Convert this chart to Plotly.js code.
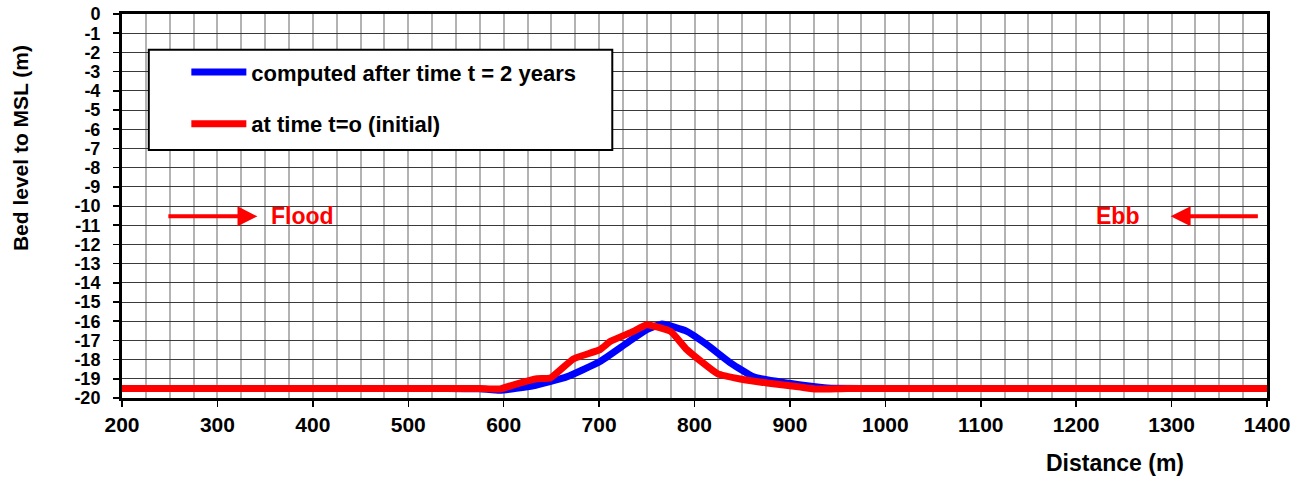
<!DOCTYPE html>
<html>
<head>
<meta charset="utf-8">
<script src="https://cdn.plot.ly/plotly-3.0.1.min.js"></script>
<style>html,body{margin:0;padding:0;background:#fff;}#chart{width:1308px;height:477px;}</style>
</head>
<body>
<div id="chart"></div>
<script>
// ---- data ----
var seriesNames = ["computed after time t = 2 years", "at time t=o (initial)"];
var distComputed = [200, 300, 400, 480, 540, 575, 596, 631, 666, 701, 729, 750, 766, 792, 813, 838, 862, 893, 939, 980, 1040, 1120, 1220, 1320, 1400];
var bedComputed  = [-19.5, -19.5, -19.5, -19.5, -19.5, -19.52, -19.6, -19.36, -18.9, -18.1, -17.14, -16.44, -16.15, -16.53, -17.22, -18.18, -18.9, -19.19, -19.48, -19.5, -19.5, -19.5, -19.5, -19.5, -19.5];
var distInitial = [200, 300, 400, 480, 540, 575, 596, 614, 635, 649, 673, 701, 712, 736, 750, 775, 792, 824, 848, 876, 911, 928, 960, 1020, 1100, 1200, 1300, 1400];
var bedInitial  = [-19.5, -19.5, -19.5, -19.5, -19.5, -19.5, -19.53, -19.26, -19.0, -18.96, -17.97, -17.48, -17.05, -16.53, -16.18, -16.53, -17.48, -18.73, -19.01, -19.22, -19.43, -19.53, -19.5, -19.5, -19.5, -19.5, -19.5, -19.5];
var xTickVals = [200, 300, 400, 500, 600, 700, 800, 900, 1000, 1100, 1200, 1300, 1400];
var xTickText = ["200", "300", "400", "500", "600", "700", "800", "900", "1000", "1100", "1200", "1300", "1400"];
var yTickVals = [0, -1, -2, -3, -4, -5, -6, -7, -8, -9, -10, -11, -12, -13, -14, -15, -16, -17, -18, -19, -20];
var yTickText = ["0", "-1", "-2", "-3", "-4", "-5", "-6", "-7", "-8", "-9", "-10", "-11", "-12", "-13", "-14", "-15", "-16", "-17", "-18", "-19", "-20"];
var xTitle = "Distance (m)";
var yTitle = "Bed level to MSL (m)";
var floodLabel = "Flood", ebbLabel = "Ebb";
var floodArrow = {from: 247, to: 342, y: -10.54, textX: 389};
var ebbArrow = {from: 1392, to: 1299, y: -10.54, textX: 1243};

var FONT = "Arial, 'Liberation Sans', sans-serif";
var RED = "#ff0000", BLUE = "#0000ff";

var traces = [
  {x: distComputed, y: bedComputed, name: seriesNames[0], type: "scatter", mode: "lines",
   line: {color: BLUE, width: 7, shape: "spline", smoothing: 0.4}, legendgroup: "a"},
  {x: distInitial, y: bedInitial, name: seriesNames[1], type: "scatter", mode: "lines",
   line: {color: RED, width: 7, shape: "spline", smoothing: 0.4}, legendgroup: "b"}
];

var layout = {
  width: 1308, height: 477,
  margin: {l: 122, r: 41, t: 14, b: 79, pad: 0},
  paper_bgcolor: "#fff", plot_bgcolor: "#fff",
  font: {family: FONT, size: 20, color: "#000", weight: "bold"},
  showlegend: true,
  legend: {x: 0.0562, xanchor: "left", y: 0.903, yanchor: "top", bgcolor: "rgba(0,0,0,0)",
           borderwidth: 0, font: {family: FONT, size: 22, color: "#000", weight: "bold"},
           tracegroupgap: 20, traceorder: "grouped", itemwidth: 55},
  xaxis: {range: [200, 1400], tickmode: "array", tickvals: xTickVals, ticktext: xTickText,
          showgrid: true, gridcolor: "#b3b3b3", gridwidth: 2,
          minor: {dtick: 25, tick0: 200, showgrid: true, gridcolor: "#b3b3b3", gridwidth: 2, ticks: ""},
          showline: true, linecolor: "#000", linewidth: 3, mirror: true,
          ticks: "outside", ticklen: 6, tickwidth: 1.5, tickcolor: "#000",
          tickfont: {family: FONT, size: 21, weight: "bold"}, zeroline: false, fixedrange: true},
  yaxis: {range: [-20, 0], tickmode: "array", tickvals: yTickVals, ticktext: yTickText,
          showgrid: true, gridcolor: "#3a3a3a", gridwidth: 1,
          showline: true, linecolor: "#000", linewidth: 3, mirror: true,
          ticks: "outside", ticklen: 6, tickwidth: 1.5, tickcolor: "#000",
          tickfont: {family: FONT, size: 18, weight: "bold"}, zeroline: false, fixedrange: true,
          ticklabelstandoff: 9},
  shapes: [
    {type: "rect", xref: "paper", yref: "paper", x0: 0.0234, x1: 0.4282, y0: 0.646, y1: 0.907,
     fillcolor: "#fff", line: {color: "#000", width: 2}, layer: "above"}
  ],
  annotations: [
    {xref: "x", yref: "y", axref: "x", ayref: "y", x: floodArrow.to, y: floodArrow.y,
     ax: floodArrow.from, ay: floodArrow.y, text: "", showarrow: true, arrowhead: 2,
     arrowsize: 1, arrowwidth: 4, arrowcolor: RED},
    {xref: "x", yref: "y", axref: "x", ayref: "y", x: ebbArrow.to, y: ebbArrow.y,
     ax: ebbArrow.from, ay: ebbArrow.y, text: "", showarrow: true, arrowhead: 2,
     arrowsize: 1, arrowwidth: 4, arrowcolor: RED},
    {xref: "x", yref: "y", x: floodArrow.textX, y: floodArrow.y, text: floodLabel, showarrow: false,
     font: {family: FONT, size: 23, color: RED, weight: "bold"}},
    {xref: "x", yref: "y", x: ebbArrow.textX, y: ebbArrow.y, text: ebbLabel, showarrow: false,
     font: {family: FONT, size: 23, color: RED, weight: "bold"}},
    {xref: "paper", yref: "paper", x: 0.867, y: -0.169, xanchor: "center", yanchor: "middle",
     text: xTitle, showarrow: false, font: {family: FONT, size: 23, weight: "bold"}},
    {xref: "paper", yref: "paper", x: -0.089, y: 0.651, xanchor: "center", yanchor: "middle",
     text: yTitle, textangle: -90, showarrow: false, font: {family: FONT, size: 21, weight: "bold"}}
  ]
};

Plotly.newPlot("chart", traces, layout, {staticPlot: true, displayModeBar: false});
</script>
</body>
</html>
